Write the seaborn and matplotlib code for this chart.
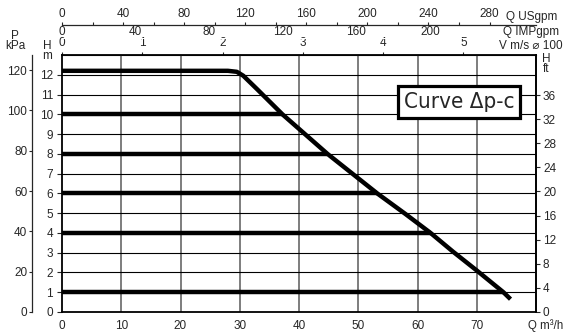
import numpy as np
import pandas as pd
import matplotlib
matplotlib.use("Agg")
import matplotlib.pyplot as plt
import seaborn as sns

# courbe delta p-c : Q (m3/h) et H (m)
q_curve = [0, 28, 29.5, 30.6, 33, 37.2, 41.0, 44.8, 49, 53.2, 58, 62.2, 66, 70, 74.5, 75.7]
h_curve = [12.2, 12.2, 12.15, 11.95, 11.25, 10, 9, 8, 7, 6, 4.95, 4, 3.05, 2.1, 1, 0.65]

# paliers fixes (H m) et leur fin sur la courbe (Q m3/h)
h_levels = [10, 8, 6, 4, 1]
q_levels_end = [37.2, 44.8, 53.2, 62.2, 74.5]

h_ticks = list(range(0, 13))
p_ticks = [0, 20, 40, 60, 80, 100, 120]
ft_ticks = [0, 4, 8, 12, 16, 20, 24, 28, 32, 36]
q_ticks = [0, 10, 20, 30, 40, 50, 60, 70]
us_ticks = [0, 40, 80, 120, 160, 200, 240, 280]
us_minor = [20, 60, 100, 140, 180, 220, 260]
imp_ticks = [0, 40, 80, 120, 160, 200]
v_ticks = [0, 1, 2, 3, 4, 5]

KPA_PER_M = 9.81
FT_PER_M = 3.281
US_PER_Q = 3.88
IMP_PER_Q = 3.22
Q_PER_V = 13.55

sns.set_style("white")
plt.rcParams['font.family'] = ['Liberation Sans', 'DejaVu Sans']
plt.rcParams['font.size'] = 8.5

W, H = 573, 332
fig = plt.figure(figsize=(W / 100, H / 100), dpi=100)
ax = fig.add_axes([62 / W, 20 / H, 474 / W, 257 / H])
ax.set_xlim(0, 80)
ax.set_ylim(0, 13)

for v in q_ticks[1:]:
    ax.axvline(v, color='#5a5a5a', lw=1.1, zorder=1)
for h in h_ticks[1:]:
    ax.axhline(h, color='black', lw=0.8, zorder=1)

rows = []
for h, qe in zip(h_levels, q_levels_end):
    rows.append((h, 0, h))
    rows.append((h, qe, h))
df_lv = pd.DataFrame(rows, columns=['lvl', 'q', 'h'])
sns.lineplot(data=df_lv, x='q', y='h', units='lvl', estimator=None, color='black',
             lw=3.2, ax=ax, legend=False, zorder=3, solid_capstyle='butt')

df_c = pd.DataFrame({'q': q_curve, 'h': h_curve})
sns.lineplot(data=df_c, x='q', y='h', estimator=None, sort=False, color='black',
             lw=3.2, ax=ax, zorder=4, solid_capstyle='butt')

ax.set_xlabel('')
ax.set_ylabel('')
for s in ax.spines.values():
    s.set_linewidth(1.3)
    s.set_color('black')

ax.set_yticks(h_ticks)
ax.set_xticks(q_ticks)
ax.tick_params(axis='y', left=True, direction='out', length=3.5, width=0.8, pad=3, labelsize=8.5)
ax.tick_params(axis='x', bottom=True, length=0, pad=6, labelsize=8.5)

# axe P kPa a gauche
ax_p = ax.secondary_yaxis(-30 / 474, functions=(lambda m: m * KPA_PER_M, lambda p: p / KPA_PER_M))
ax_p.set_yticks(p_ticks)
ax_p.tick_params(direction='out', length=2.5, width=0.8, pad=1, labelsize=8.5)
ax_p.spines['left'].set_linewidth(0.9)

# axe H ft a droite
ax_ft = ax.secondary_yaxis('right', functions=(lambda m: m * FT_PER_M, lambda f: f / FT_PER_M))
ax_ft.set_yticks(ft_ticks)
ax_ft.tick_params(direction='out', length=3, width=0.8, pad=2, labelsize=8.5)
ax_ft.spines['right'].set_linewidth(1.3)

# vitesse m/s en haut
ax_v = ax.secondary_xaxis('top', functions=(lambda q: q / Q_PER_V, lambda v: v * Q_PER_V))
ax_v.set_xticks(v_ticks)
ax_v.tick_params(direction='out', length=2.5, width=0.8, pad=1.5, labelsize=8.5)

# IMPgpm (sans ligne)
ax_imp = ax.secondary_xaxis((312 - 38.5) / 257, functions=(lambda q: q * IMP_PER_Q, lambda g: g / IMP_PER_Q))
ax_imp.set_xticks(imp_ticks)
ax_imp.tick_params(length=0, pad=0, labelsize=8.5)
ax_imp.spines['top'].set_visible(False)

# USgpm
ax_us = ax.secondary_xaxis((312 - 25) / 257, functions=(lambda q: q * US_PER_Q, lambda g: g / US_PER_Q))
ax_us.set_xticks(us_ticks)
ax_us.set_xticks(us_minor, minor=True)
ax_us.tick_params(which='both', direction='out', length=2.5, width=0.8, pad=1, labelsize=8.5)
ax_us.spines['top'].set_linewidth(0.9)


def ftext(x, y, s, **kw):
    fig.text(x / W, 1 - y / H, s, **kw)


ftext(15, 41, 'P\nkPa', ha='center', va='center', linespacing=0.75, fontsize=8.5)
ftext(47, 51, 'H\nm', ha='center', va='center', linespacing=0.75, fontsize=8.5)
ftext(546, 64, 'H\nft', ha='center', va='center', linespacing=0.75, fontsize=8.5)
ftext(506, 17, 'Q USgpm', ha='left', va='center', fontsize=8.5)
ftext(503, 32, 'Q IMPgpm', ha='left', va='center', fontsize=8.5)
ftext(499, 46, 'V m/s \u2300 100', ha='left', va='center', fontsize=8.5)
ftext(528, 332, 'Q m\u00b3/h', ha='left', va='bottom', fontsize=8.3)

ftext(459, 102, 'Curve \u0394p-c', ha='center', va='center', fontsize=16,
      family=['DejaVu Sans'], fontstretch='condensed',
      bbox=dict(boxstyle='square,pad=0.27', fc='white', ec='black', lw=2.3))

fig.savefig('out.png', dpi=100)
